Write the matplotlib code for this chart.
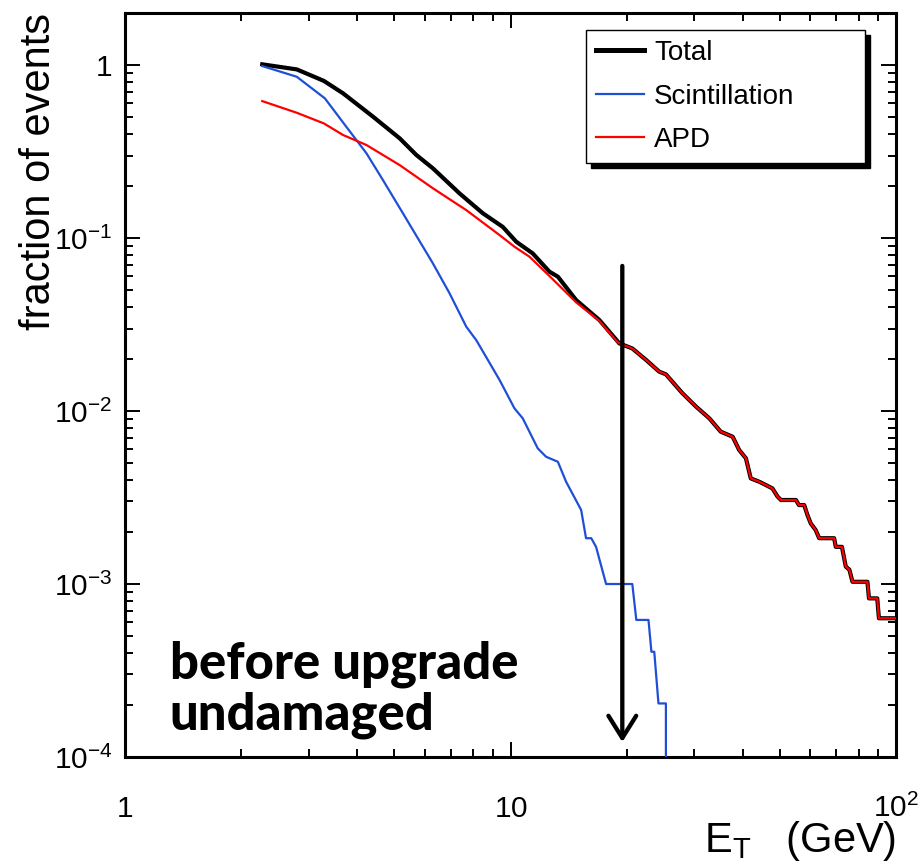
import numpy as np
import matplotlib
matplotlib.use('Agg')
import matplotlib.pyplot as plt
from matplotlib.ticker import FixedLocator, NullFormatter

plt.rcParams['font.family'] = ['Liberation Sans', 'DejaVu Sans']
plt.rcParams['mathtext.fontset'] = 'custom'
plt.rcParams['mathtext.rm'] = 'Liberation Sans'
plt.rcParams['mathtext.it'] = 'Liberation Sans:italic'
plt.rcParams['mathtext.bf'] = 'Liberation Sans:bold'
plt.rcParams['mathtext.sf'] = 'Liberation Sans'
plt.rcParams['mathtext.default'] = 'regular'

# Fraction of events above a transverse-energy threshold (GeV)
et_total = [2.27, 2.79, 3.28, 3.68, 4.40, 5.16, 5.70, 6.29, 7.38, 8.48, 9.55,
            10.35, 11.42, 12.62, 13.27, 14.8, 17.0, 19.16, 20.7, 22.5, 24.3,
            25.3, 27.9, 30.3, 32.8, 35.1, 37.7, 39.2, 40.8, 42.0, 44.2, 46.0,
            47.8, 49.3, 50.3, 55.0, 56.0, 57.8, 58.9, 60.1, 61.9, 63.2, 69.1,
            69.8, 72.4, 74.1, 75.7, 77.1, 84.3, 85.1, 89.4, 90.3, 100.0]
frac_total = [1.01, 0.944, 0.81, 0.686, 0.503, 0.377, 0.302, 0.253, 0.181,
              0.139, 0.116, 0.0952, 0.0815, 0.0639, 0.0598, 0.0438, 0.0336,
              0.0246, 0.0230, 0.0197, 0.0169, 0.0163, 0.0127, 0.0106, 0.00907,
              0.0076, 0.0071, 0.00595, 0.00533, 0.00408, 0.0039, 0.00373,
              0.00357, 0.0032, 0.00306, 0.00306, 0.00286, 0.00286, 0.00251,
              0.00224, 0.00205, 0.00184, 0.00184, 0.00164, 0.00164, 0.00126,
              0.00121, 0.00103, 0.00103, 0.000826, 0.000826, 0.000634,
              0.000634]

et_scint = [2.27, 2.79, 3.30, 3.75, 4.23, 4.67, 5.26, 6.29, 6.95, 7.68, 8.15,
            8.74, 9.37, 10.24, 10.76, 11.77, 12.37, 13.27, 13.94, 15.25, 15.7,
            16.2, 16.67, 17.7, 20.7, 21.2, 22.8, 23.2, 23.6, 24.2, 25.3, 25.4]
frac_scint = [0.987, 0.856, 0.642, 0.440, 0.309, 0.216, 0.139, 0.0714, 0.0479,
              0.0307, 0.0257, 0.0197, 0.0151, 0.01036, 0.00907, 0.00608,
              0.00544, 0.00509, 0.0039, 0.00268, 0.00184, 0.00184, 0.00164,
              0.001, 0.001, 0.00062, 0.00062, 0.000406, 0.000406, 0.000204,
              0.000204, 0.0]

et_apd = [2.27, 2.79, 3.28, 3.68, 4.23, 5.16, 6.29, 7.68, 9.37, 10.24, 11.2,
          12.7, 14.8, 17.0, 18.9] + et_total[17:]
frac_apd = [0.619, 0.530, 0.460, 0.394, 0.345, 0.264, 0.194, 0.145, 0.104,
            0.0891, 0.078, 0.0595, 0.0425, 0.0332, 0.0252] + frac_total[17:]

x_ticks = [1, 10, 100]
x_ticklabels = ['$1$', '$10$', '$10^{2}$']
y_ticks = [1e-4, 1e-3, 1e-2, 1e-1, 1]
y_ticklabels = ['$10^{-4}$', '$10^{-3}$', '$10^{-2}$', '$10^{-1}$', '$1$']

# Threshold marker
threshold_et = 19.5
arrow_top = 0.069
arrow_tip = 1.22e-4

fig = plt.figure(figsize=(9.21, 8.63), dpi=100)
W, H = 921, 863
ax = fig.add_axes([125 / W, 1 - 757 / H, (896 - 125) / W, (757 - 13) / H])

ax.plot(et_total, frac_total, color='black', lw=3.0, label='Total', zorder=3)
ax.plot(et_scint, frac_scint, color='#1f4fd6', lw=1.6, label='Scintillation',
        zorder=4)
ax.plot(et_apd, frac_apd, color='#ff0000', lw=1.6, label='APD', zorder=5)

ax.set_xscale('log')
ax.set_yscale('log')
ax.set_xlim(1, 100)
ax.set_ylim(1e-4, 2)

ax.xaxis.set_major_locator(FixedLocator(x_ticks))
ax.set_xticklabels(x_ticklabels)
ax.xaxis.set_minor_locator(FixedLocator(
    [k * 10 ** d for d in range(0, 2) for k in range(2, 10)]))
ax.xaxis.set_minor_formatter(NullFormatter())
ax.yaxis.set_major_locator(FixedLocator(y_ticks))
ax.set_yticklabels(y_ticklabels)
ax.yaxis.set_minor_locator(FixedLocator(
    [k * 10.0 ** d for d in range(-4, 1) for k in range(2, 10)]))
ax.yaxis.set_minor_formatter(NullFormatter())

ax.tick_params(which='both', direction='in', top=True, right=True,
               width=1.4, color='black')
ax.tick_params(which='major', length=11)
ax.tick_params(which='minor', length=5.5)
ax.tick_params(axis='x', which='major', pad=43, labelsize=21.5)
ax.tick_params(axis='y', which='major', pad=9, labelsize=21.5)
for lab in ax.get_xticklabels():
    lab.set_verticalalignment('baseline')
for s in ax.spines.values():
    s.set_linewidth(2.2)

ax.set_ylabel('fraction of events', loc='top', fontsize=30)
ax.yaxis.set_label_coords(-0.0856, 1.0)
ax.set_xlabel(r'$\mathrm{E}_{\mathrm{T}}$   (GeV)', loc='right', fontsize=30)
ax.xaxis.set_label_coords(1.0, -0.084)

leg = ax.legend(loc='upper left', bbox_to_anchor=(0.598, 0.798, 0.362, 0.179),
                mode='expand', fontsize=20, handlelength=1.73,
                handletextpad=0.36, labelspacing=0.63, borderpad=0.36,
                borderaxespad=0, fancybox=False, framealpha=1,
                edgecolor='black',
                shadow={'ox': 3.6, 'oy': -3.6, 'facecolor': 'black',
                        'edgecolor': 'black', 'alpha': 1})
leg.get_frame().set_linewidth(1.0)
leg.legend_handles[0].set_linewidth(3.6)

ax.annotate('', xy=(threshold_et, arrow_tip),
            xytext=(threshold_et, arrow_top),
            arrowprops=dict(arrowstyle='->,head_length=0.8,head_width=0.5',
                            lw=3.1, color='black', shrinkA=0, shrinkB=0,
                            mutation_scale=20), zorder=6)

ax.text(0.058, 0.156, 'before upgrade\nundamaged', transform=ax.transAxes,
        fontsize=36.5, fontweight='black', family=['Lato', 'DejaVu Sans'],
        va='top', ha='left', linespacing=1.08, zorder=7)

fig.savefig('out.png', dpi=100)
